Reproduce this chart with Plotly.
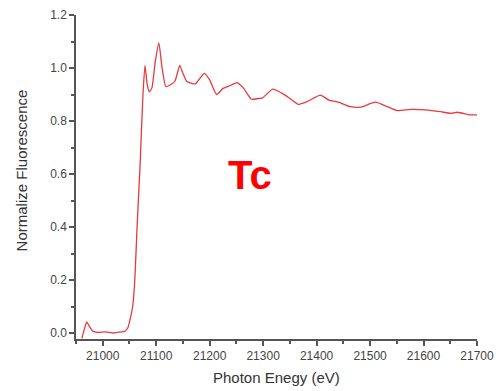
import plotly.graph_objects as go

energy = [20961, 20965, 20970, 20975, 20981, 20990, 21005, 21020, 21030, 21041,
          21047, 21051, 21056, 21060, 21064, 21070, 21075, 21079, 21083, 21087,
          21092, 21098, 21105, 21111, 21118, 21125, 21135, 21144, 21150, 21157,
          21173, 21190, 21200, 21213, 21225, 21240, 21251, 21263, 21278, 21291,
          21298, 21318, 21335, 21350, 21366, 21382, 21407, 21423, 21441, 21463,
          21482, 21510, 21532, 21551, 21576, 21604, 21632, 21651, 21663, 21688, 21700]
fluor = [-0.02, 0.01, 0.042, 0.025, 0.008, 0.002, 0.004, 0.0, 0.003, 0.006,
         0.02, 0.05, 0.1, 0.2, 0.39, 0.64, 0.89, 1.01, 0.94, 0.91,
         0.925, 1.02, 1.095, 1.0, 0.93, 0.935, 0.95, 1.01, 0.98, 0.95,
         0.94, 0.98, 0.955, 0.90, 0.923, 0.935, 0.945, 0.925, 0.882, 0.885,
         0.886, 0.92, 0.905, 0.885, 0.863, 0.873, 0.898, 0.879, 0.871, 0.854,
         0.852, 0.871, 0.854, 0.839, 0.844, 0.842, 0.835, 0.829, 0.833, 0.823, 0.823]

x_ticks = [21000, 21100, 21200, 21300, 21400, 21500, 21600, 21700]
y_ticks = [0.0, 0.2, 0.4, 0.6, 0.8, 1.0, 1.2]

fig = go.Figure()
fig.add_trace(go.Scatter(x=energy, y=fluor, mode="lines",
                         line=dict(color="#e8393c", width=1.3, shape="spline", smoothing=0.5),
                         showlegend=False, cliponaxis=False))

axis_common = dict(showline=True, linecolor="#555555", linewidth=1.5, ticks="outside",
                   ticklen=5, tickwidth=1.5, tickcolor="#555555", showgrid=False, zeroline=False,
                   automargin=False,
                   tickfont=dict(family="Liberation Sans, Arial", size=12, color="#444444"))

fig.update_xaxes(range=[20950, 21700], tickvals=x_ticks, ticktext=[str(v) for v in x_ticks],
                 minor=dict(dtick=50, tick0=21000, ticks="outside", ticklen=3, tickwidth=1.5, tickcolor="#555555"),
                 **axis_common)
fig.update_yaxes(range=[-0.0226, 1.2], tickvals=y_ticks, ticktext=[f"{v:.1f}" for v in y_ticks],
                 minor=dict(dtick=0.1, tick0=0, ticks="outside", ticklen=3, tickwidth=1.5, tickcolor="#555555"),
                 **axis_common)

fig.add_annotation(text="Photon Enegy (eV)", xref="paper", yref="paper", x=0.5, y=-0.12,
                   showarrow=False, yanchor="middle", xanchor="center",
                   font=dict(family="Liberation Sans, Arial", size=15, color="#333333"))
fig.add_annotation(text="Normalize Fluorescence", xref="paper", yref="paper", x=-0.135, y=0.52,
                   showarrow=False, textangle=-90, xanchor="center", yanchor="middle",
                   font=dict(family="Liberation Sans, Arial", size=15, color="#333333"))
fig.add_annotation(text="<b>Tc</b>", xref="paper", yref="paper", x=0.433, y=0.505,
                   showarrow=False, xanchor="center", yanchor="middle",
                   font=dict(family="Liberation Sans, Arial", size=40, color="#ff0000"))

fig.update_layout(width=496, height=391, margin=dict(l=76, r=19, t=15, b=52, autoexpand=False),
                  plot_bgcolor="white", paper_bgcolor="white")

fig.write_html("out.html")
